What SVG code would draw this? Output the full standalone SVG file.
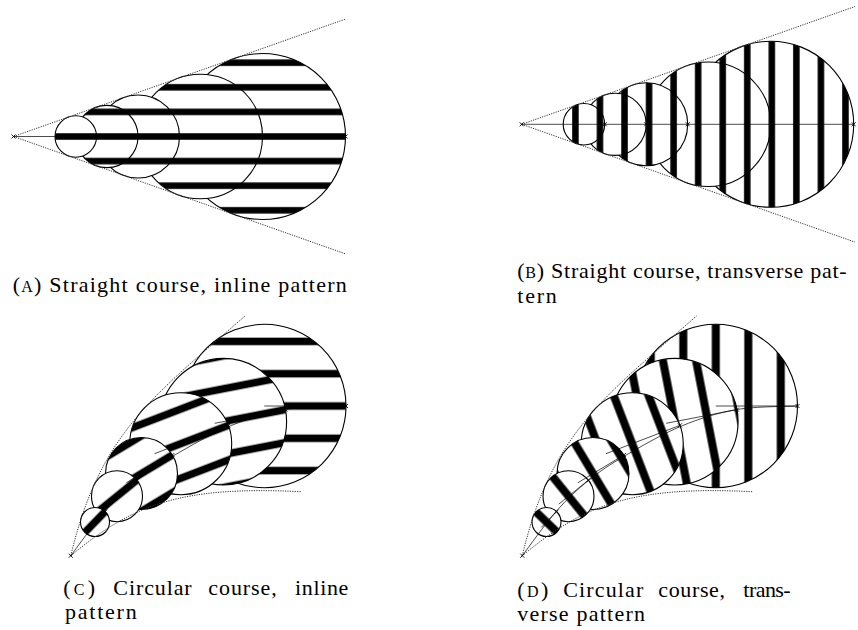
<svg xmlns="http://www.w3.org/2000/svg" xmlns:xlink="http://www.w3.org/1999/xlink" width="858" height="630" viewBox="0 0 858 630">
<style>
.c{stroke:#000;stroke-width:1.1}
.dot{fill:none;stroke:#333;stroke-width:1;stroke-dasharray:1.2 1.2}
.ln{fill:none;stroke:#000;stroke-width:0.7}
.mk{fill:none;stroke:#000;stroke-width:0.9}
text{font-family:"Liberation Serif","Times New Roman",serif;font-size:22px;fill:#000}
.sc{font-size:16px}
</style>
<defs>
<pattern id="pA" patternUnits="userSpaceOnUse" x="0" y="124.2" width="858" height="24.6"><rect width="858" height="24.6" fill="#fff"/><rect y="9.05" width="858" height="6.5"/></pattern>
<pattern id="pB" patternUnits="userSpaceOnUse" x="587.7" y="0" width="24.55" height="630"><rect width="24.55" height="630" fill="#fff"/><rect x="9.02" width="6.5" height="630"/></pattern>
<pattern id="pc1" patternUnits="userSpaceOnUse" x="-200" y="-16.15" width="400" height="32.3" patternTransform="translate(95 522) rotate(-46)"><rect width="400" height="32.3" fill="#fff"/><rect y="12.4" width="400" height="7.5"/></pattern>
<pattern id="pc2" patternUnits="userSpaceOnUse" x="-200" y="-16.15" width="400" height="32.3" patternTransform="translate(117 496.2) rotate(-39)"><rect width="400" height="32.3" fill="#fff"/><rect y="12.4" width="400" height="7.5"/></pattern>
<pattern id="pc3" patternUnits="userSpaceOnUse" x="-200" y="-16.15" width="400" height="32.3" patternTransform="translate(141.5 473.5) rotate(-31)"><rect width="400" height="32.3" fill="#fff"/><rect y="12.4" width="400" height="7.5"/></pattern>
<pattern id="pc4" patternUnits="userSpaceOnUse" x="-200" y="-16.15" width="400" height="32.3" patternTransform="translate(180.7 443.7) rotate(-21)"><rect width="400" height="32.3" fill="#fff"/><rect y="12.4" width="400" height="7.5"/></pattern>
<pattern id="pc5" patternUnits="userSpaceOnUse" x="-200" y="-16.15" width="400" height="32.3" patternTransform="translate(223.3 421.7) rotate(-11)"><rect width="400" height="32.3" fill="#fff"/><rect y="12.4" width="400" height="7.5"/></pattern>
<pattern id="pc6" patternUnits="userSpaceOnUse" x="-200" y="-16.15" width="400" height="32.3" patternTransform="translate(264.3 406) rotate(0)"><rect width="400" height="32.3" fill="#fff"/><rect y="12.4" width="400" height="7.5"/></pattern>
<pattern id="pd1" patternUnits="userSpaceOnUse" x="-16.25" y="-200" width="32.5" height="400" patternTransform="translate(95 522) rotate(-46)"><rect width="32.5" height="400" fill="#fff"/><rect x="12.25" width="8" height="400"/></pattern>
<pattern id="pd2" patternUnits="userSpaceOnUse" x="-16.25" y="-200" width="32.5" height="400" patternTransform="translate(117 496.2) rotate(-39)"><rect width="32.5" height="400" fill="#fff"/><rect x="12.25" width="8" height="400"/></pattern>
<pattern id="pd3" patternUnits="userSpaceOnUse" x="-16.25" y="-200" width="32.5" height="400" patternTransform="translate(141.5 473.5) rotate(-31)"><rect width="32.5" height="400" fill="#fff"/><rect x="12.25" width="8" height="400"/></pattern>
<pattern id="pd4" patternUnits="userSpaceOnUse" x="-16.25" y="-200" width="32.5" height="400" patternTransform="translate(180.7 443.7) rotate(-21)"><rect width="32.5" height="400" fill="#fff"/><rect x="12.25" width="8" height="400"/></pattern>
<pattern id="pd5" patternUnits="userSpaceOnUse" x="-16.25" y="-200" width="32.5" height="400" patternTransform="translate(223.3 421.7) rotate(-11)"><rect width="32.5" height="400" fill="#fff"/><rect x="12.25" width="8" height="400"/></pattern>
<pattern id="pd6" patternUnits="userSpaceOnUse" x="-16.25" y="-200" width="32.5" height="400" patternTransform="translate(264.3 406) rotate(0)"><rect width="32.5" height="400" fill="#fff"/><rect x="12.25" width="8" height="400"/></pattern>
</defs>
<rect width="858" height="630" fill="#fff"/>

<g id="panel-a">
<g id="a5"><circle class="c" cx="262.5" cy="136.5" r="83" fill="url(#pA)"/></g>
<g id="a4"><circle class="c" cx="200.25" cy="136.5" r="62.25" fill="url(#pA)"/></g>
<g id="a3"><circle class="c" cx="138" cy="136.5" r="41.5" fill="url(#pA)"/></g>
<g id="a2"><circle class="c" cx="106.9" cy="136.5" r="31.1" fill="url(#pA)"/></g>
<g id="a1"><circle class="c" cx="75.75" cy="136.5" r="20.75" fill="url(#pA)"/></g>
</g>

<g id="panel-b">
<g id="b5"><circle class="c" cx="770.7" cy="124.3" r="83" fill="url(#pB)"/></g>
<g id="b4"><circle class="c" cx="708.45" cy="124.3" r="62.25" fill="url(#pB)"/></g>
<g id="b3"><circle class="c" cx="646.2" cy="124.3" r="41.5" fill="url(#pB)"/></g>
<g id="b2"><circle class="c" cx="615.1" cy="124.3" r="31.1" fill="url(#pB)"/></g>
<g id="b1"><circle class="c" cx="583.95" cy="124.3" r="20.75" fill="url(#pB)"/></g>
</g>

<g id="panel-c">
<g id="c6"><circle class="c" cx="264.3" cy="406" r="81.7" fill="url(#pc6)"/></g>
<g id="c5"><circle class="c" cx="223.3" cy="421.7" r="63.3" fill="url(#pc5)"/></g>
<g id="c4"><circle class="c" cx="180.7" cy="443.7" r="51" fill="url(#pc4)"/></g>
<g id="c3"><circle class="c" cx="141.5" cy="473.5" r="36" fill="url(#pc3)"/></g>
<g id="c2"><circle class="c" cx="117" cy="496.2" r="25.5" fill="url(#pc2)"/></g>
<g id="c1"><circle class="c" cx="95" cy="522" r="14.5" fill="url(#pc1)"/></g>
</g>

<g id="panel-d" transform="translate(451.5 0)">
<g id="d6"><circle class="c" cx="264.3" cy="406" r="81.7" fill="url(#pd6)"/></g>
<g id="d5"><circle class="c" cx="223.3" cy="421.7" r="63.3" fill="url(#pd5)"/></g>
<g id="d4"><circle class="c" cx="180.7" cy="443.7" r="51" fill="url(#pd4)"/></g>
<g id="d3"><circle class="c" cx="141.5" cy="473.5" r="36" fill="url(#pd3)"/></g>
<g id="d2"><circle class="c" cx="117" cy="496.2" r="25.5" fill="url(#pd2)"/></g>
<g id="d1"><circle class="c" cx="95" cy="522" r="14.5" fill="url(#pd1)"/></g>
</g>

<g id="connectors">
<path class="dot" d="M13.5,136.5L345.5,19.1M13.5,136.5L345.5,253.9"/>
<path class="ln" d="M13.5,136.5H345.5"/>
<path class="mk" d="M11.5,134.5l4,4m0,-4l-4,4M343.5,134.5l4,4m0,-4l-4,4"/>
<path class="dot" d="M521.7,124.3L855,6.5M521.7,124.3L855,242.1"/>
<path class="ln" d="M521.7,124.3H853.7"/>
<path class="mk" d="M519.7,122.3l4,4m0,-4l-4,4M602.7,122.3l4,4m0,-4l-4,4M644.2,122.3l4,4m0,-4l-4,4M685.7,122.3l4,4m0,-4l-4,4M851.7,122.3l4,4m0,-4l-4,4"/>
<g id="course-c">
<path class="dot" d="M70.8,555.7C100,432 155,395 245,316"/>
<path class="dot" d="M70.8,555.7C132.6,504.5 180.7,485.7 300.7,491.7"/>
<path class="ln" d="M70.8,555.7C76.4,548.4 93.3,524.3 104.4,511.7C115.5,499.1 125.7,489.6 137.2,480.3C148.7,471 157.9,464.9 173.4,455.8C188.9,446.8 211.4,433.7 230.1,426C248.8,418.3 266.2,412.8 285.6,409.5C305,406.2 336.1,406.6 346.2,406"/>
<path class="ln" d="M264.3,406L346,406M214.7,423.3L285.4,409.6M154.5,453.7L228.3,425.4M126.3,482.8L172.4,455M107.3,504.1L136.8,480.2M89.8,527.4L105.1,511.6"/>
<path class="mk" d="M68.8,553.7l4,4m0,-4l-4,4M344,404l4,4m0,-4l-4,4M283.4,407.6l4,4m0,-4l-4,4M226.3,423.4l4,4m0,-4l-4,4M170.4,453l4,4m0,-4l-4,4M134.8,478.2l4,4m0,-4l-4,4M103.1,509.6l4,4m0,-4l-4,4"/>
</g>
<use xlink:href="#course-c" transform="translate(451.5 0)"/>
</g>

<g id="captions">
<text x="12.7" y="292" textLength="334" lengthAdjust="spacing">(<tspan class="sc">A</tspan>) Straight course, inline pattern</text>
<text x="517.3" y="278" textLength="329.4" lengthAdjust="spacing">(<tspan class="sc">B</tspan>) Straight course, transverse pat-</text>
<text x="517.3" y="302.5" textLength="39.4" lengthAdjust="spacing">tern</text>
<text x="63.3" y="594.5" textLength="31.7" lengthAdjust="spacing">(<tspan class="sc">C</tspan>)</text>
<text x="113.3" y="594.5" textLength="78.4" lengthAdjust="spacing">Circular</text>
<text x="208.3" y="594.5" textLength="68.4" lengthAdjust="spacing">course,</text>
<text x="295" y="594.5" textLength="53.3" lengthAdjust="spacing">inline</text>
<text x="65" y="618.5" textLength="71.7" lengthAdjust="spacing">pattern</text>
<text x="517.3" y="596.5" textLength="31" lengthAdjust="spacing">(<tspan class="sc">D</tspan>)</text>
<text x="563.3" y="596.5" textLength="80" lengthAdjust="spacing">Circular</text>
<text x="658.3" y="596.5" textLength="66.7" lengthAdjust="spacing">course,</text>
<text x="743.3" y="596.5" textLength="47.4" lengthAdjust="spacing">trans-</text>
<text x="517.3" y="620.5" textLength="127.7" lengthAdjust="spacing">verse pattern</text>
</g>
</svg>
